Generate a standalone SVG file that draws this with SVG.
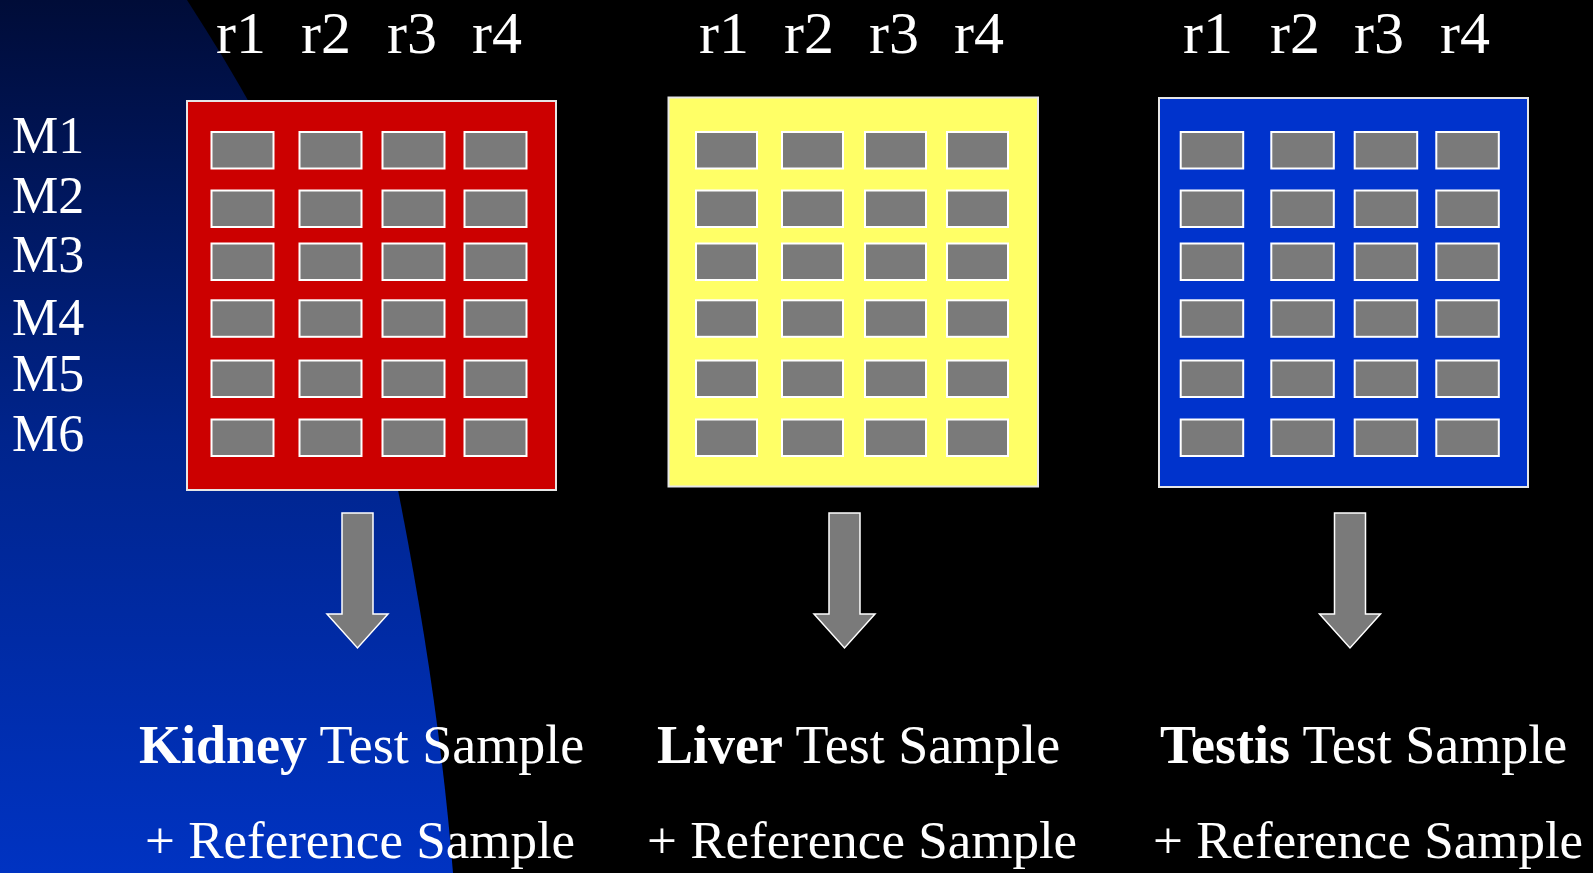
<svg xmlns="http://www.w3.org/2000/svg" width="1593" height="873" viewBox="0 0 1593 873">
  <defs>
    <linearGradient id="bgBlue" gradientUnits="userSpaceOnUse" x1="0" y1="0" x2="0" y2="873">
      <stop offset="0" stop-color="#000c38"/>
      <stop offset="0.5" stop-color="#00248c"/>
      <stop offset="1" stop-color="#0033c2"/>
    </linearGradient>
    <style>
      .txt { font-family: "Liberation Serif", "Times New Roman", serif; fill: #ffffff; }
      .col { font-size: 60px; }
      .row { font-size: 52px; }
      .lbl { font-size: 54px; }
      .lbl2 { font-size: 53px; }
      .b { font-weight: bold; }
      .panel { stroke: #e6e6e6; stroke-width: 2; }
      .red { fill: #cc0000; }
      .yellow { fill: #ffff66; }
      .blue { fill: #0033cc; }
      .cell { fill: #7a7a7a; stroke: #ffffff; stroke-width: 2; }
      .arrow { fill: #7a7a7a; stroke: #ffffff; stroke-width: 1.5; stroke-linejoin: miter; }
    </style>
  </defs>

  <rect x="0" y="0" width="1593" height="873" fill="#000000"/>
  <path d="M0,0 L187,0 C291,160 364,320 396,480 C422,610 442.6,743 453,873 L0,873 Z" fill="url(#bgBlue)"/>

  <g id="row-labels" class="txt row">
    <text x="12" y="153">M1</text>
    <text x="12" y="213">M2</text>
    <text x="12" y="272">M3</text>
    <text x="12" y="335">M4</text>
    <text x="12" y="391">M5</text>
    <text x="12" y="451">M6</text>
  </g>

  <g id="kidney-panel">
    <g class="txt col">
      <text x="216" y="53">r1</text>
      <text x="301" y="53">r2</text>
      <text x="387" y="53">r3</text>
      <text x="472" y="53">r4</text>
    </g>
    <rect class="panel red" x="187" y="101" width="369" height="389"/>
    <g>
      <rect class="cell" x="211.5" y="132" width="62" height="36.5"/>
      <rect class="cell" x="299.5" y="132" width="62" height="36.5"/>
      <rect class="cell" x="382.5" y="132" width="62" height="36.5"/>
      <rect class="cell" x="464.5" y="132" width="62" height="36.5"/>
      <rect class="cell" x="211.5" y="190.5" width="62" height="36.5"/>
      <rect class="cell" x="299.5" y="190.5" width="62" height="36.5"/>
      <rect class="cell" x="382.5" y="190.5" width="62" height="36.5"/>
      <rect class="cell" x="464.5" y="190.5" width="62" height="36.5"/>
      <rect class="cell" x="211.5" y="243.5" width="62" height="36.5"/>
      <rect class="cell" x="299.5" y="243.5" width="62" height="36.5"/>
      <rect class="cell" x="382.5" y="243.5" width="62" height="36.5"/>
      <rect class="cell" x="464.5" y="243.5" width="62" height="36.5"/>
      <rect class="cell" x="211.5" y="300.3" width="62" height="36.5"/>
      <rect class="cell" x="299.5" y="300.3" width="62" height="36.5"/>
      <rect class="cell" x="382.5" y="300.3" width="62" height="36.5"/>
      <rect class="cell" x="464.5" y="300.3" width="62" height="36.5"/>
      <rect class="cell" x="211.5" y="360.5" width="62" height="36.5"/>
      <rect class="cell" x="299.5" y="360.5" width="62" height="36.5"/>
      <rect class="cell" x="382.5" y="360.5" width="62" height="36.5"/>
      <rect class="cell" x="464.5" y="360.5" width="62" height="36.5"/>
      <rect class="cell" x="211.5" y="419.5" width="62" height="36.5"/>
      <rect class="cell" x="299.5" y="419.5" width="62" height="36.5"/>
      <rect class="cell" x="382.5" y="419.5" width="62" height="36.5"/>
      <rect class="cell" x="464.5" y="419.5" width="62" height="36.5"/>
    </g>
  </g>

  <g id="liver-panel">
    <g class="txt col">
      <text x="699" y="53">r1</text>
      <text x="784" y="53">r2</text>
      <text x="869" y="53">r3</text>
      <text x="954" y="53">r4</text>
    </g>
    <rect class="panel yellow" x="668.5" y="97.5" width="369.5" height="389"/>
    <g>
      <rect class="cell" x="696" y="132" width="61" height="36.5"/>
      <rect class="cell" x="782" y="132" width="61" height="36.5"/>
      <rect class="cell" x="865" y="132" width="61" height="36.5"/>
      <rect class="cell" x="947" y="132" width="61" height="36.5"/>
      <rect class="cell" x="696" y="190.5" width="61" height="36.5"/>
      <rect class="cell" x="782" y="190.5" width="61" height="36.5"/>
      <rect class="cell" x="865" y="190.5" width="61" height="36.5"/>
      <rect class="cell" x="947" y="190.5" width="61" height="36.5"/>
      <rect class="cell" x="696" y="243.5" width="61" height="36.5"/>
      <rect class="cell" x="782" y="243.5" width="61" height="36.5"/>
      <rect class="cell" x="865" y="243.5" width="61" height="36.5"/>
      <rect class="cell" x="947" y="243.5" width="61" height="36.5"/>
      <rect class="cell" x="696" y="300.3" width="61" height="36.5"/>
      <rect class="cell" x="782" y="300.3" width="61" height="36.5"/>
      <rect class="cell" x="865" y="300.3" width="61" height="36.5"/>
      <rect class="cell" x="947" y="300.3" width="61" height="36.5"/>
      <rect class="cell" x="696" y="360.5" width="61" height="36.5"/>
      <rect class="cell" x="782" y="360.5" width="61" height="36.5"/>
      <rect class="cell" x="865" y="360.5" width="61" height="36.5"/>
      <rect class="cell" x="947" y="360.5" width="61" height="36.5"/>
      <rect class="cell" x="696" y="419.5" width="61" height="36.5"/>
      <rect class="cell" x="782" y="419.5" width="61" height="36.5"/>
      <rect class="cell" x="865" y="419.5" width="61" height="36.5"/>
      <rect class="cell" x="947" y="419.5" width="61" height="36.5"/>
    </g>
  </g>

  <g id="testis-panel">
    <g class="txt col">
      <text x="1183" y="53">r1</text>
      <text x="1270" y="53">r2</text>
      <text x="1354" y="53">r3</text>
      <text x="1440" y="53">r4</text>
    </g>
    <rect class="panel blue" x="1159" y="98" width="369" height="389"/>
    <g>
      <rect class="cell" x="1180.7" y="132" width="62.5" height="36.5"/>
      <rect class="cell" x="1271.3" y="132" width="62.5" height="36.5"/>
      <rect class="cell" x="1354.7" y="132" width="62.5" height="36.5"/>
      <rect class="cell" x="1436.3" y="132" width="62.5" height="36.5"/>
      <rect class="cell" x="1180.7" y="190.5" width="62.5" height="36.5"/>
      <rect class="cell" x="1271.3" y="190.5" width="62.5" height="36.5"/>
      <rect class="cell" x="1354.7" y="190.5" width="62.5" height="36.5"/>
      <rect class="cell" x="1436.3" y="190.5" width="62.5" height="36.5"/>
      <rect class="cell" x="1180.7" y="243.5" width="62.5" height="36.5"/>
      <rect class="cell" x="1271.3" y="243.5" width="62.5" height="36.5"/>
      <rect class="cell" x="1354.7" y="243.5" width="62.5" height="36.5"/>
      <rect class="cell" x="1436.3" y="243.5" width="62.5" height="36.5"/>
      <rect class="cell" x="1180.7" y="300.3" width="62.5" height="36.5"/>
      <rect class="cell" x="1271.3" y="300.3" width="62.5" height="36.5"/>
      <rect class="cell" x="1354.7" y="300.3" width="62.5" height="36.5"/>
      <rect class="cell" x="1436.3" y="300.3" width="62.5" height="36.5"/>
      <rect class="cell" x="1180.7" y="360.5" width="62.5" height="36.5"/>
      <rect class="cell" x="1271.3" y="360.5" width="62.5" height="36.5"/>
      <rect class="cell" x="1354.7" y="360.5" width="62.5" height="36.5"/>
      <rect class="cell" x="1436.3" y="360.5" width="62.5" height="36.5"/>
      <rect class="cell" x="1180.7" y="419.5" width="62.5" height="36.5"/>
      <rect class="cell" x="1271.3" y="419.5" width="62.5" height="36.5"/>
      <rect class="cell" x="1354.7" y="419.5" width="62.5" height="36.5"/>
      <rect class="cell" x="1436.3" y="419.5" width="62.5" height="36.5"/>
    </g>
  </g>

  <g id="connectors">
    <polygon class="arrow" points="342,513 373,513 373,614 388,614 357.5,648 327,614 342,614"/>
    <polygon class="arrow" points="829,513 860,513 860,614 875,614 844.5,648 814,614 829,614"/>
    <polygon class="arrow" points="1334.5,513 1365.5,513 1365.5,614 1380.5,614 1350,648 1319.5,614 1334.5,614"/>
  </g>

  <g id="kidney-label" class="txt">
    <text class="lbl" x="139" y="763"><tspan class="b">Kidney</tspan> Test Sample</text>
    <text class="lbl2" x="145" y="858">+ Reference Sample</text>
  </g>

  <g id="liver-label" class="txt">
    <text class="lbl" x="657" y="763"><tspan class="b">Liver</tspan> Test Sample</text>
    <text class="lbl2" x="647" y="858">+ Reference Sample</text>
  </g>

  <g id="testis-label" class="txt">
    <text class="lbl" x="1160" y="763"><tspan class="b">Testis</tspan> Test Sample</text>
    <text class="lbl2" x="1153" y="858">+ Reference Sample</text>
  </g>
</svg>
